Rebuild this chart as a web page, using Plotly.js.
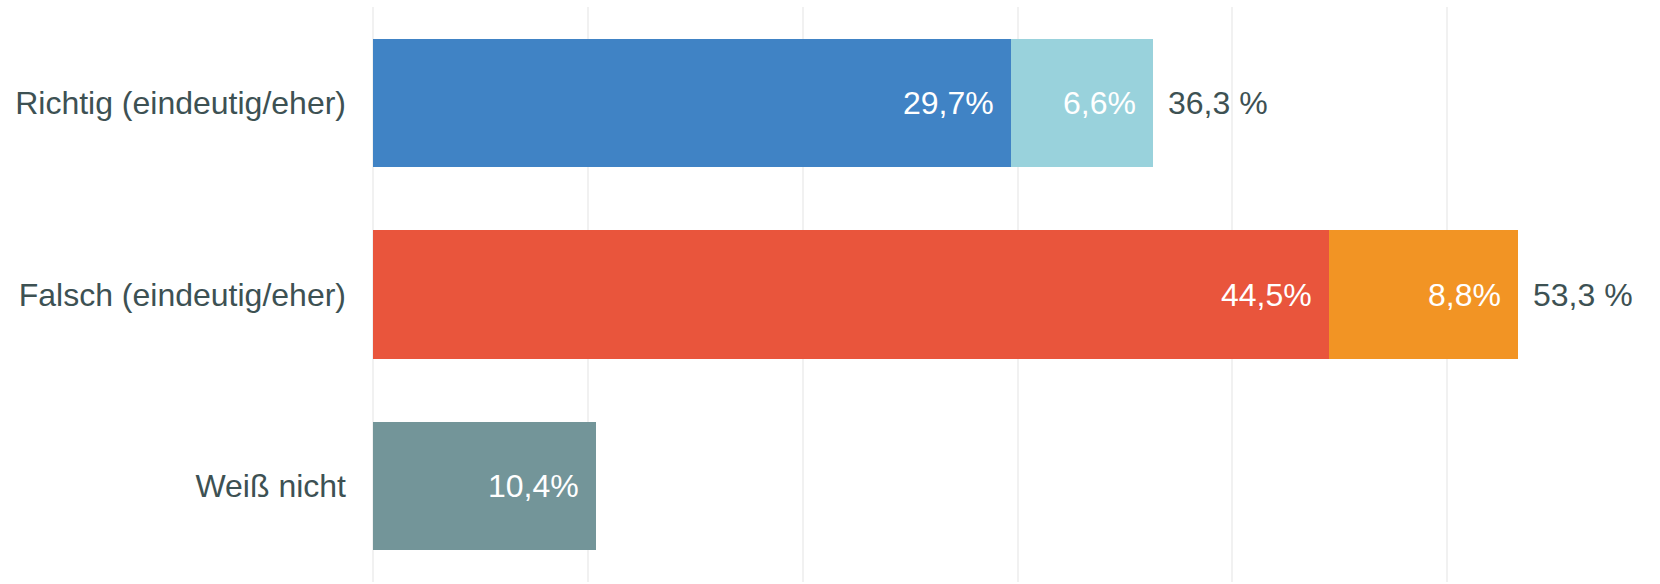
<!DOCTYPE html>
<html>
<head>
<meta charset="utf-8">
<script src="https://cdn.plot.ly/plotly-3.0.1.min.js"></script>
<style>html,body{margin:0;padding:0;background:#fff;}#chart{width:1660px;height:584px;}</style>
</head>
<body>
<div id="chart"></div>
<script>
const categories = ["Richtig (eindeutig/eher)", "Falsch (eindeutig/eher)", "Weiß nicht"];
const eindeutig = [29.7, 44.5, 10.4];
const eher = [6.6, 8.8, null];
const totals = [36.3, 53.3, null];
const eindeutigColors = ["#4083c5", "#e9553c", "#739599"];
const eherColors = ["#99d2dc", "#f29424", "#99d2dc"];
const xTicks = [0, 10, 20, 30, 40, 50];

const fmt = v => v.toFixed(1).replace(".", ",");
const textColor = "#3d5153";
const fontFam = "Liberation Sans, Arial, sans-serif";
const fs = 32;

const traces = [
  {type: "bar", orientation: "h", y: categories, x: eindeutig, name: "eindeutig",
   marker: {color: eindeutigColors}, hoverinfo: "skip"},
  {type: "bar", orientation: "h", y: categories, x: eher, name: "eher",
   marker: {color: eherColors}, hoverinfo: "skip"}
];

const annotations = [];
categories.forEach((c, i) => {
  annotations.push({x: eindeutig[i], y: c, xref: "x", yref: "y", text: fmt(eindeutig[i]) + "%",
    xanchor: "right", yanchor: "middle", xshift: -15, showarrow: false,
    font: {color: "#ffffff", size: fs, family: fontFam}});
  if (eher[i] != null) {
    annotations.push({x: eindeutig[i] + eher[i], y: c, xref: "x", yref: "y", text: fmt(eher[i]) + "%",
      xanchor: "right", yanchor: "middle", xshift: -15, showarrow: false,
      font: {color: "#ffffff", size: fs, family: fontFam}});
  }
  if (totals[i] != null) {
    annotations.push({x: eindeutig[i] + eher[i], y: c, xref: "x", yref: "y", text: fmt(totals[i]) + " %",
      xanchor: "left", yanchor: "middle", xshift: 13, showarrow: false,
      font: {color: textColor, size: fs, family: fontFam}});
  }
});

const layout = {
  width: 1660, height: 584,
  margin: {l: 373, r: 0, t: 7, b: 2, pad: 0},
  barmode: "stack",
  bargap: 0.332,
  showlegend: false,
  paper_bgcolor: "#ffffff", plot_bgcolor: "#ffffff",
  font: {family: fontFam, size: fs, color: textColor},
  xaxis: {range: [0, 59.9], tickvals: xTicks, showticklabels: false, showgrid: true,
    gridcolor: "#f1f1f1", gridwidth: 2, zeroline: true, zerolinecolor: "#f1f1f1", zerolinewidth: 2,
    showline: false, fixedrange: true},
  yaxis: {categoryorder: "array", categoryarray: categories, autorange: "reversed",
    showgrid: false, zeroline: false, showline: false, ticks: "", ticklabelstandoff: 26,
    tickfont: {size: fs, color: textColor, family: fontFam}, fixedrange: true},
  annotations: annotations
};

Plotly.newPlot("chart", traces, layout, {displayModeBar: false, staticPlot: true});
</script>
</body>
</html>
